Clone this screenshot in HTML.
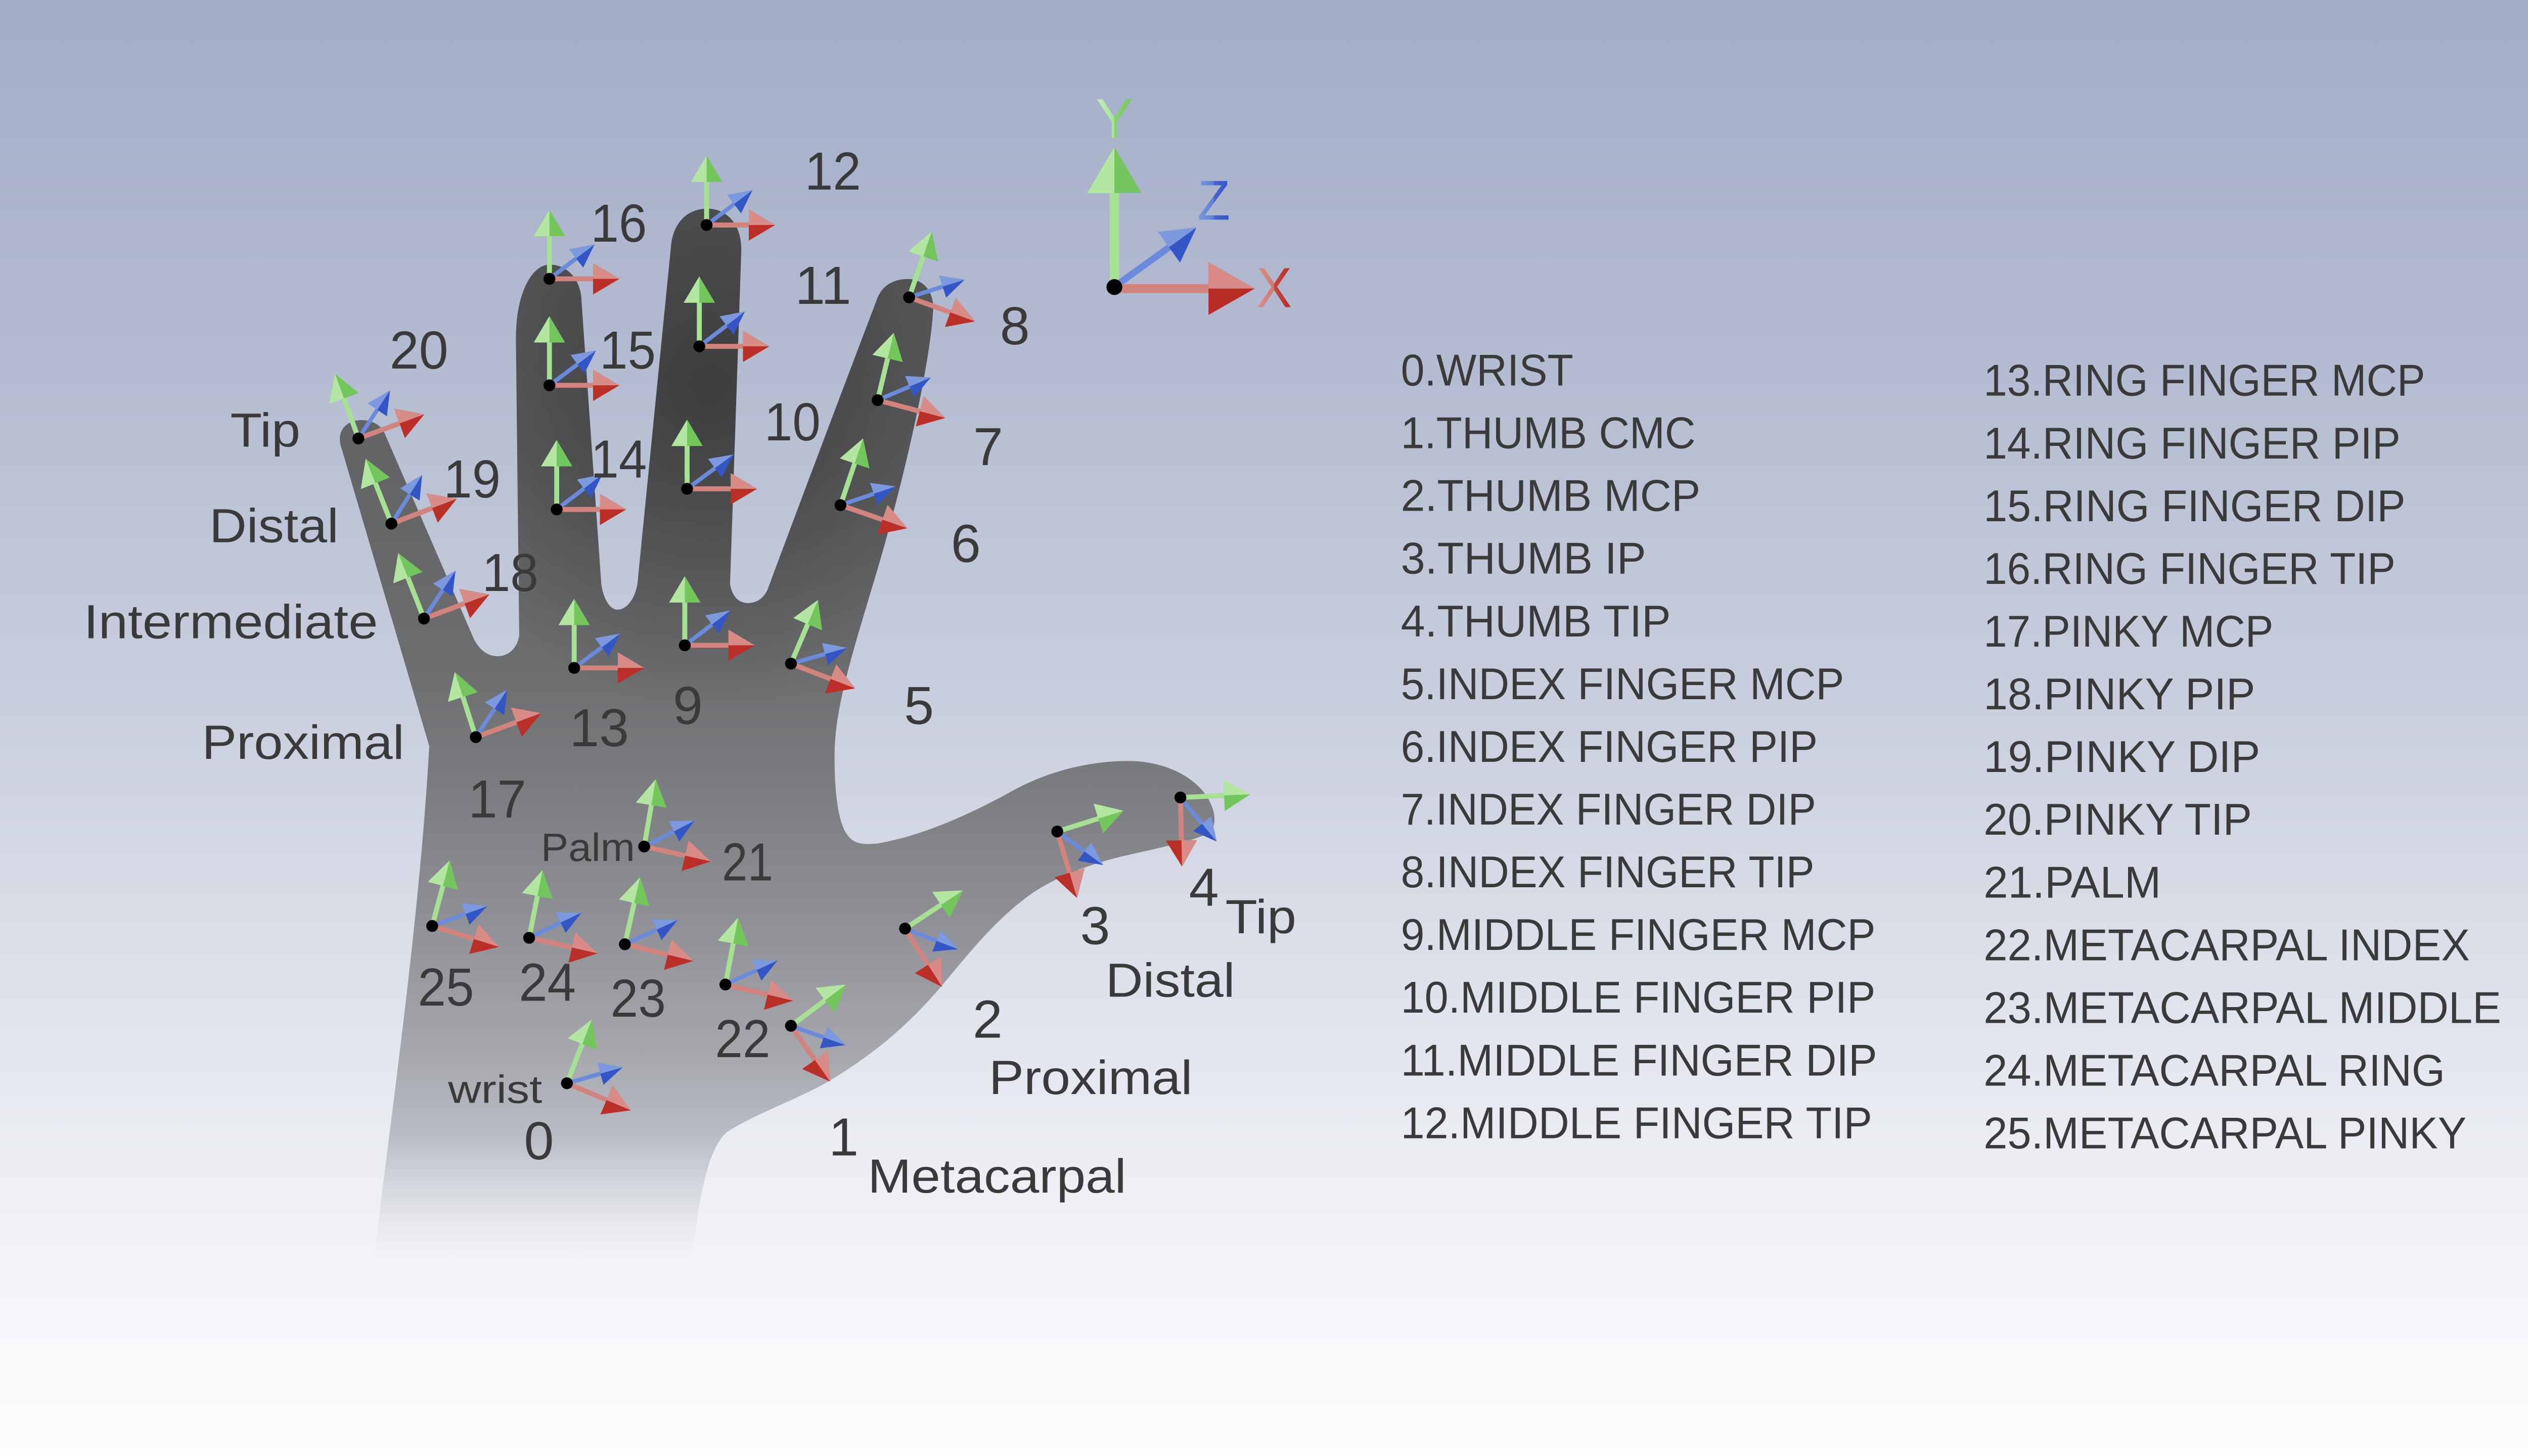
<!DOCTYPE html>
<html>
<head>
<meta charset="utf-8">
<style>
html,body{margin:0;padding:0;width:5120px;height:2880px;overflow:hidden;background:#fff;}
svg{display:block;}
text{font-family:"Liberation Sans","DejaVu Sans",sans-serif;fill:#3a3a3a;}
.n{font-size:32.5px;}
.w{font-size:29px;}
.s{font-size:24px;}
.l{font-size:27px;}
.g{stroke:#a6e093;stroke-width:3;marker-end:url(#mg);stroke-dasharray:92 100;}
.r{stroke:#d3837e;stroke-width:3;marker-end:url(#mr);stroke-dasharray:92 100;}
.b{stroke:#6a8bdb;stroke-width:2.5;marker-end:url(#mb);stroke-dasharray:92 100;}
</style>
</head>
<body>
<svg width="5120" height="2880" viewBox="0 0 1568 882" xmlns="http://www.w3.org/2000/svg">
<defs>
  <linearGradient id="bg" x1="0" y1="0" x2="0" y2="882" gradientUnits="userSpaceOnUse">
    <stop offset="0" stop-color="#a2adc7"/>
    <stop offset="0.255" stop-color="#b4bcd1"/>
    <stop offset="0.5" stop-color="#cbd0df"/>
    <stop offset="0.67" stop-color="#dde1ea"/>
    <stop offset="0.80" stop-color="#eceef3"/>
    <stop offset="0.90" stop-color="#f5f6f9"/>
    <stop offset="1" stop-color="#fdfdfe"/>
  </linearGradient>
  <linearGradient id="hand" x1="0" y1="120" x2="0" y2="800" gradientUnits="userSpaceOnUse">
    <stop offset="0" stop-color="#5b5c5e"/>
    <stop offset="0.265" stop-color="#646567"/>
    <stop offset="0.412" stop-color="#6c6d6f"/>
    <stop offset="0.529" stop-color="#7c7d80"/>
    <stop offset="0.647" stop-color="#909196"/>
    <stop offset="0.765" stop-color="#a6a8ae"/>
    <stop offset="0.84" stop-color="#bbbec5" stop-opacity="1"/>
    <stop offset="0.90" stop-color="#ced1d8" stop-opacity="0.5"/>
    <stop offset="0.945" stop-color="#e0e3ea" stop-opacity="0"/>
  </linearGradient>
  <radialGradient id="dark" cx="430" cy="235" r="195" gradientUnits="userSpaceOnUse">
    <stop offset="0" stop-color="#000" stop-opacity="0.38"/>
    <stop offset="0.5" stop-color="#000" stop-opacity="0.2"/>
    <stop offset="1" stop-color="#000" stop-opacity="0"/>
  </radialGradient>
  <linearGradient id="ty" x1="0" y1="0" x2="1" y2="0">
    <stop offset="0" stop-color="#c6f0b6"/><stop offset="0.5" stop-color="#a6e294"/><stop offset="0.5" stop-color="#86d270"/><stop offset="1" stop-color="#74c75e"/>
  </linearGradient>
  <linearGradient id="tx" x1="0" y1="0" x2="1" y2="0">
    <stop offset="0" stop-color="#dc928e"/><stop offset="0.5" stop-color="#d27670"/><stop offset="0.5" stop-color="#c7453e"/><stop offset="1" stop-color="#b92c26"/>
  </linearGradient>
  <linearGradient id="tz" x1="0" y1="0" x2="1" y2="0">
    <stop offset="0" stop-color="#7c98de"/><stop offset="0.5" stop-color="#5f80d6"/><stop offset="0.5" stop-color="#4566cc"/><stop offset="1" stop-color="#3356c4"/>
  </linearGradient>

  <marker id="mg" viewBox="0 -10 16 20" refX="16" refY="0" markerWidth="16" markerHeight="20" markerUnits="userSpaceOnUse" orient="auto">
    <path d="M0,-9.5L16,0L0,9.5Z" fill="#72c65c"/><path d="M0,-9.5L16,0L0,0Z" fill="#b3e6a0"/>
  </marker>
  <marker id="mr" viewBox="0 -10 16 20" refX="16" refY="0" markerWidth="16" markerHeight="20" markerUnits="userSpaceOnUse" orient="auto">
    <path d="M0,-9.5L16,0L0,9.5Z" fill="#bb2f29"/><path d="M0,-9.5L16,0L0,0Z" fill="#d98b87"/>
  </marker>
  <marker id="mb" viewBox="0 -8 14 16" refX="14" refY="0" markerWidth="14" markerHeight="16" markerUnits="userSpaceOnUse" orient="auto">
    <path d="M0,-7L14,0L0,7Z" fill="#3356c4"/><path d="M0,-7L14,0L0,0Z" fill="#7c98de"/>
  </marker>
  <marker id="MG" viewBox="0 -17 28 34" refX="28" refY="0" markerWidth="28" markerHeight="34" markerUnits="userSpaceOnUse" orient="auto">
    <path d="M0,-16.5L28,0L0,16.5Z" fill="#74c75e"/><path d="M0,-16.5L28,0L0,0Z" fill="#b3e6a0"/>
  </marker>
  <marker id="MR" viewBox="0 -17 28 34" refX="28" refY="0" markerWidth="28" markerHeight="34" markerUnits="userSpaceOnUse" orient="auto">
    <path d="M0,-16L28,0L0,16Z" fill="#b92c26"/><path d="M0,-16L28,0L0,0Z" fill="#d98b87"/>
  </marker>
  <marker id="MB" viewBox="0 -12 21 24" refX="20.5" refY="0" markerWidth="21" markerHeight="24" markerUnits="userSpaceOnUse" orient="auto">
    <path d="M0,-11.4L20.5,0L0,11.4Z" fill="#3356c4"/><path d="M0,-11.4L20.5,0L0,0Z" fill="#7c98de"/>
  </marker>
</defs>

<rect x="0" y="0" width="1568" height="882" fill="url(#bg)"/>

<!-- Hand -->
<path fill="url(#hand)" d="M 224,800 L 227,760 C 236,680 254,560 260,452 L 207,272 C 203,261 210,254.5 219,254.5 C 226,254.5 231,258 233,262.5 L 287,387 C 290.5,394 295.5,397.5 301.5,397.5 C 308.5,397.5 313.5,392 314.5,385 L 312.5,205 C 312.5,178 322,160.3 333,160.3 C 344,160.3 352,170 352.2,182 L 364.2,353.7 C 365.5,363 369.5,369.3 374,369.3 C 379.5,369.3 384.5,363 386.1,353.7 L 406.6,147.5 C 408.5,134 417,126.4 428.5,126.4 C 441,126.4 449.5,137 449,152 L 442.2,353.7 C 443.5,361.5 447.5,365.3 453.2,365.3 C 459,365.3 463.5,361.5 465.4,355.9 C 475,330 505,250 531,181.8 C 534,173 541,169 550,169 C 559.5,169 566,177 565.2,188.3 C 563,225 545,300 530,350 C 515,400 505.5,430 505.5,458 C 505.5,480 507.5,500 514.6,507.4 C 519,512 526,511.5 532,510.9 C 560,506 590,492 613,479.2 C 635,467 660,461 683.4,461 C 705,461 722,470 730,481 C 737,491 737.5,501 731.5,505 C 722,509.5 705,513 683.4,517.9 C 665,522 640,530 622,543.4 C 600,560 585,580 569,598.8 C 550,621 528,640 498.8,656.8 C 480,667 455,676 440,686 C 428,697 421,730 416,800 Z"/>
<path fill="url(#dark)" d="M 224,800 L 227,760 C 236,680 254,560 260,452 L 207,272 C 203,261 210,254.5 219,254.5 C 226,254.5 231,258 233,262.5 L 287,387 C 290.5,394 295.5,397.5 301.5,397.5 C 308.5,397.5 313.5,392 314.5,385 L 312.5,205 C 312.5,178 322,160.3 333,160.3 C 344,160.3 352,170 352.2,182 L 364.2,353.7 C 365.5,363 369.5,369.3 374,369.3 C 379.5,369.3 384.5,363 386.1,353.7 L 406.6,147.5 C 408.5,134 417,126.4 428.5,126.4 C 441,126.4 449.5,137 449,152 L 442.2,353.7 C 443.5,361.5 447.5,365.3 453.2,365.3 C 459,365.3 463.5,361.5 465.4,355.9 C 475,330 505,250 531,181.8 C 534,173 541,169 550,169 C 559.5,169 566,177 565.2,188.3 C 563,225 545,300 530,350 C 515,400 505.5,430 505.5,458 C 505.5,480 507.5,500 514.6,507.4 C 519,512 526,511.5 532,510.9 C 560,506 590,492 613,479.2 C 635,467 660,461 683.4,461 C 705,461 722,470 730,481 C 737,491 737.5,501 731.5,505 C 722,509.5 705,513 683.4,517.9 C 665,522 640,530 622,543.4 C 600,560 585,580 569,598.8 C 550,621 528,640 498.8,656.8 C 480,667 455,676 440,686 C 428,697 421,730 416,800 Z"/>

<!-- Joints -->
<g>
<line class="g" pathLength="100" x1="332.8" y1="168.9" x2="332.8" y2="127"/>
<line class="b" pathLength="100" x1="332.8" y1="168.9" x2="360.1" y2="148.1"/>
<line class="r" pathLength="100" x1="332.8" y1="168.9" x2="375.2" y2="168.9"/>
<circle cx="332.8" cy="168.9" r="3.6" fill="#000"/>

<line class="g" pathLength="100" x1="428" y1="136.3" x2="428" y2="94.2"/>
<line class="b" pathLength="100" x1="428" y1="136.3" x2="455.8" y2="115.2"/>
<line class="r" pathLength="100" x1="428" y1="136.3" x2="469.5" y2="136.3"/>
<circle cx="428" cy="136.3" r="3.6" fill="#000"/>

<line class="g" pathLength="100" x1="332.8" y1="233.4" x2="332.8" y2="191.5"/>
<line class="b" pathLength="100" x1="332.8" y1="233.4" x2="361" y2="212.3"/>
<line class="r" pathLength="100" x1="332.8" y1="233.4" x2="375.2" y2="233.4"/>
<circle cx="332.8" cy="233.4" r="3.6" fill="#000"/>

<line class="g" pathLength="100" x1="423.6" y1="209.8" x2="423.6" y2="167.4"/>
<line class="b" pathLength="100" x1="423.6" y1="209.8" x2="451.2" y2="188.7"/>
<line class="r" pathLength="100" x1="423.6" y1="209.8" x2="466" y2="209.8"/>
<circle cx="423.6" cy="209.8" r="3.6" fill="#000"/>

<line class="g" pathLength="100" x1="337.2" y1="308.6" x2="337.2" y2="266.5"/>
<line class="b" pathLength="100" x1="337.2" y1="308.6" x2="364.8" y2="287.5"/>
<line class="r" pathLength="100" x1="337.2" y1="308.6" x2="379.3" y2="308.6"/>
<circle cx="337.2" cy="308.6" r="3.6" fill="#000"/>

<line class="g" pathLength="100" x1="416.2" y1="296.1" x2="416.2" y2="254.2"/>
<line class="b" pathLength="100" x1="416.2" y1="296.1" x2="444.3" y2="275.3"/>
<line class="r" pathLength="100" x1="416.2" y1="296.1" x2="458.6" y2="296.1"/>
<circle cx="416.2" cy="296.1" r="3.6" fill="#000"/>

<line class="g" pathLength="100" x1="414.8" y1="390.9" x2="414.8" y2="349"/>
<line class="b" pathLength="100" x1="414.8" y1="390.9" x2="442.4" y2="369.8"/>
<line class="r" pathLength="100" x1="414.8" y1="390.9" x2="457.2" y2="390.9"/>
<circle cx="414.8" cy="390.9" r="3.6" fill="#000"/>

<line class="g" pathLength="100" x1="347.8" y1="404.6" x2="347.8" y2="362.7"/>
<line class="b" pathLength="100" x1="347.8" y1="404.6" x2="375.7" y2="383.8"/>
<line class="r" pathLength="100" x1="347.8" y1="404.6" x2="390.2" y2="404.6"/>
<circle cx="347.8" cy="404.6" r="3.6" fill="#000"/>

<line class="g" pathLength="100" x1="550.7" y1="180.1" x2="564.4" y2="140.2"/>
<line class="b" pathLength="100" x1="550.7" y1="180.1" x2="584.3" y2="169.4"/>
<line class="r" pathLength="100" x1="550.7" y1="180.1" x2="590.6" y2="194.7"/>
<circle cx="550.7" cy="180.1" r="3.6" fill="#000"/>

<line class="g" pathLength="100" x1="531.6" y1="242.4" x2="541.4" y2="201.6"/>
<line class="b" pathLength="100" x1="531.6" y1="242.4" x2="563.8" y2="228.7"/>
<line class="r" pathLength="100" x1="531.6" y1="242.4" x2="572.6" y2="253.2"/>
<circle cx="531.6" cy="242.4" r="3.6" fill="#000"/>

<line class="g" pathLength="100" x1="509.1" y1="306" x2="522.8" y2="265.6"/>
<line class="b" pathLength="100" x1="509.1" y1="306" x2="542.5" y2="294.6"/>
<line class="r" pathLength="100" x1="509.1" y1="306" x2="549.6" y2="320"/>
<circle cx="509.1" cy="306" r="3.6" fill="#000"/>

<line class="g" pathLength="100" x1="479.1" y1="402" x2="495.5" y2="363.4"/>
<line class="b" pathLength="100" x1="479.1" y1="402" x2="513.2" y2="392.4"/>
<line class="r" pathLength="100" x1="479.1" y1="402" x2="518" y2="417"/>
<circle cx="479.1" cy="402" r="3.6" fill="#000"/>

<line class="g" pathLength="100" x1="217.1" y1="265.6" x2="202.9" y2="226.3"/>
<line class="b" pathLength="100" x1="217.1" y1="265.6" x2="236.2" y2="236.6"/>
<line class="r" pathLength="100" x1="217.1" y1="265.6" x2="257" y2="251"/>
<circle cx="217.1" cy="265.6" r="3.6" fill="#000"/>

<line class="g" pathLength="100" x1="237.1" y1="317.2" x2="221.5" y2="277.9"/>
<line class="b" pathLength="100" x1="237.1" y1="317.2" x2="255.7" y2="287.7"/>
<line class="r" pathLength="100" x1="237.1" y1="317.2" x2="276.7" y2="302.1"/>
<circle cx="237.1" cy="317.2" r="3.6" fill="#000"/>

<line class="g" pathLength="100" x1="256.8" y1="374.7" x2="241.2" y2="335"/>
<line class="b" pathLength="100" x1="256.8" y1="374.7" x2="275.9" y2="345.7"/>
<line class="r" pathLength="100" x1="256.8" y1="374.7" x2="296.4" y2="360.1"/>
<circle cx="256.8" cy="374.7" r="3.6" fill="#000"/>

<line class="g" pathLength="100" x1="288.2" y1="446.5" x2="275.5" y2="407"/>
<line class="b" pathLength="100" x1="288.2" y1="446.5" x2="307.3" y2="417.7"/>
<line class="r" pathLength="100" x1="288.2" y1="446.5" x2="327.8" y2="432"/>
<circle cx="288.2" cy="446.5" r="3.6" fill="#000"/>

<line class="g" pathLength="100" x1="390.2" y1="512.8" x2="397.2" y2="472"/>
<line class="b" pathLength="100" x1="390.2" y1="512.8" x2="420.7" y2="497.2"/>
<line class="r" pathLength="100" x1="390.2" y1="512.8" x2="430.6" y2="521.8"/>
<circle cx="390.2" cy="512.8" r="3.6" fill="#000"/>

<line class="g" pathLength="100" x1="261.8" y1="560.9" x2="272.4" y2="521.2"/>
<line class="b" pathLength="100" x1="261.8" y1="560.9" x2="295.2" y2="548.9"/>
<line class="r" pathLength="100" x1="261.8" y1="560.9" x2="302.3" y2="573.6"/>
<circle cx="261.8" cy="560.9" r="3.6" fill="#000"/>

<line class="g" pathLength="100" x1="320.5" y1="568.1" x2="328.6" y2="527.1"/>
<line class="b" pathLength="100" x1="320.5" y1="568.1" x2="352.2" y2="552.8"/>
<line class="r" pathLength="100" x1="320.5" y1="568.1" x2="362" y2="577.5"/>
<circle cx="320.5" cy="568.1" r="3.6" fill="#000"/>

<line class="g" pathLength="100" x1="378.5" y1="572" x2="387.7" y2="531.4"/>
<line class="b" pathLength="100" x1="378.5" y1="572" x2="410.5" y2="557.3"/>
<line class="r" pathLength="100" x1="378.5" y1="572" x2="420" y2="582.1"/>
<circle cx="378.5" cy="572" r="3.6" fill="#000"/>

<line class="g" pathLength="100" x1="439.4" y1="596.4" x2="447.1" y2="555.8"/>
<line class="b" pathLength="100" x1="439.4" y1="596.4" x2="471" y2="581.8"/>
<line class="r" pathLength="100" x1="439.4" y1="596.4" x2="480.5" y2="606.2"/>
<circle cx="439.4" cy="596.4" r="3.6" fill="#000"/>

<line class="g" pathLength="100" x1="343.4" y1="656.2" x2="358.5" y2="617.5"/>
<line class="b" pathLength="100" x1="343.4" y1="656.2" x2="377.1" y2="646.6"/>
<line class="r" pathLength="100" x1="343.4" y1="656.2" x2="382.1" y2="672.6"/>
<circle cx="343.4" cy="656.2" r="3.6" fill="#000"/>

<line class="g" pathLength="100" x1="479.1" y1="621.4" x2="512.5" y2="596.4"/>
<line class="b" pathLength="100" x1="479.1" y1="621.4" x2="512.1" y2="633.1"/>
<line class="r" pathLength="100" x1="479.1" y1="621.4" x2="502.8" y2="655.2"/>
<circle cx="479.1" cy="621.4" r="3.6" fill="#000"/>

<line class="g" pathLength="100" x1="548.2" y1="562.5" x2="583.3" y2="539.4"/>
<line class="b" pathLength="100" x1="548.2" y1="562.5" x2="580.3" y2="575"/>
<line class="r" pathLength="100" x1="548.2" y1="562.5" x2="570.7" y2="597.9"/>
<circle cx="548.2" cy="562.5" r="3.6" fill="#000"/>

<line class="g" pathLength="100" x1="640.4" y1="503.7" x2="680.5" y2="491.1"/>
<line class="b" pathLength="100" x1="640.4" y1="503.7" x2="668.2" y2="524"/>
<line class="r" pathLength="100" x1="640.4" y1="503.7" x2="652.4" y2="544"/>
<circle cx="640.4" cy="503.7" r="3.6" fill="#000"/>

<line class="g" pathLength="100" x1="715" y1="483.1" x2="757.4" y2="481.1"/>
<line class="b" pathLength="100" x1="715" y1="483.1" x2="737" y2="509.8"/>
<line class="r" pathLength="100" x1="715" y1="483.1" x2="716" y2="525"/>
<circle cx="715" cy="483.1" r="3.6" fill="#000"/>
</g>

<!-- Axis legend -->
<line x1="675" y1="173.7" x2="675" y2="89" stroke="#a6e093" stroke-width="5.7" pathLength="100" stroke-dasharray="93 100" marker-end="url(#MG)"/>
<line x1="675" y1="173.7" x2="724.7" y2="137.8" stroke="#6a8bdb" stroke-width="4" pathLength="100" stroke-dasharray="92 100" marker-end="url(#MB)"/>
<line x1="675" y1="174.8" x2="760" y2="174.8" stroke="#d3837e" stroke-width="5.4" pathLength="100" stroke-dasharray="93 100" marker-end="url(#MR)"/>
<circle cx="675" cy="173.9" r="4.8" fill="#000"/>
<text x="675" y="83.6" font-size="34" text-anchor="middle" style="fill:url(#ty)">Y</text>
<text x="761" y="186" font-size="34" textLength="21.5" lengthAdjust="spacingAndGlyphs" style="fill:url(#tx)">X</text>
<text x="725.3" y="133" font-size="34" textLength="19.8" lengthAdjust="spacingAndGlyphs" style="fill:url(#tz)">Z</text>

<!-- Hand labels: numbers -->
<g class="n">
<text x="487.5" y="114.8" textLength="34" lengthAdjust="spacingAndGlyphs">12</text>
<text x="357.8" y="146.4" textLength="34" lengthAdjust="spacingAndGlyphs">16</text>
<text x="481.6" y="184" textLength="34" lengthAdjust="spacingAndGlyphs">11</text>
<text x="605.7" y="208.5">8</text>
<text x="236" y="223.3" textLength="35.5" lengthAdjust="spacingAndGlyphs">20</text>
<text x="363.2" y="223.3" textLength="34" lengthAdjust="spacingAndGlyphs">15</text>
<text x="463" y="266.7" textLength="34" lengthAdjust="spacingAndGlyphs">10</text>
<text x="589.5" y="281.7">7</text>
<text x="268.7" y="301.3" textLength="34.5" lengthAdjust="spacingAndGlyphs">19</text>
<text x="357.8" y="289.2" textLength="34" lengthAdjust="spacingAndGlyphs">14</text>
<text x="576" y="340.4">6</text>
<text x="292.1" y="358" textLength="34" lengthAdjust="spacingAndGlyphs">18</text>
<text x="345" y="452" textLength="36" lengthAdjust="spacingAndGlyphs">13</text>
<text x="407.6" y="438.5">9</text>
<text x="547.6" y="438.5">5</text>
<text x="283.7" y="495.2" textLength="35" lengthAdjust="spacingAndGlyphs">17</text>
<text x="437.3" y="533.3" textLength="31" lengthAdjust="spacingAndGlyphs">21</text>
<text x="253.1" y="609.1" textLength="34" lengthAdjust="spacingAndGlyphs">25</text>
<text x="314.3" y="606.2" textLength="34.5" lengthAdjust="spacingAndGlyphs">24</text>
<text x="369.8" y="615.9" textLength="33.5" lengthAdjust="spacingAndGlyphs">23</text>
<text x="433.1" y="640.4" textLength="33.5" lengthAdjust="spacingAndGlyphs">22</text>
<text x="317.4" y="702.3">0</text>
<text x="502" y="699.9">1</text>
<text x="589.2" y="628.6">2</text>
<text x="654.3" y="572">3</text>
<text x="720.2" y="548.6">4</text>
</g>

<!-- Hand labels: words -->
<g class="w">
<text x="139.5" y="270.6" textLength="42.4" lengthAdjust="spacingAndGlyphs">Tip</text>
<text x="126.8" y="328.4" textLength="78.3" lengthAdjust="spacingAndGlyphs">Distal</text>
<text x="50.7" y="386.7" textLength="178.2" lengthAdjust="spacingAndGlyphs">Intermediate</text>
<text x="122.3" y="459.7" textLength="122.6" lengthAdjust="spacingAndGlyphs">Proximal</text>
<text x="525.6" y="722.4" textLength="156.6" lengthAdjust="spacingAndGlyphs">Metacarpal</text>
<text x="599" y="662.8" textLength="123.3" lengthAdjust="spacingAndGlyphs">Proximal</text>
<text x="669.7" y="603.8" textLength="78.3" lengthAdjust="spacingAndGlyphs">Distal</text>
<text x="742.2" y="565.4" textLength="43" lengthAdjust="spacingAndGlyphs">Tip</text>
</g>
<g class="s">
<text x="327.6" y="521.6" textLength="57" lengthAdjust="spacingAndGlyphs">Palm</text>
<text x="271.4" y="668.1" textLength="57" lengthAdjust="spacingAndGlyphs">wrist</text>
</g>

<!-- Legend list column 1 -->
<g class="l">
<text x="848.5" y="233.5" textLength="104.5" lengthAdjust="spacingAndGlyphs">0.WRIST</text>
<text x="848.5" y="271.5" textLength="178.5" lengthAdjust="spacingAndGlyphs">1.THUMB CMC</text>
<text x="848.5" y="309.5" textLength="181.5" lengthAdjust="spacingAndGlyphs">2.THUMB MCP</text>
<text x="848.5" y="347.5" textLength="148.5" lengthAdjust="spacingAndGlyphs">3.THUMB IP</text>
<text x="848.5" y="385.5" textLength="163.5" lengthAdjust="spacingAndGlyphs">4.THUMB TIP</text>
<text x="848.5" y="423.5" textLength="268.5" lengthAdjust="spacingAndGlyphs">5.INDEX FINGER MCP</text>
<text x="848.5" y="461.5" textLength="252.5" lengthAdjust="spacingAndGlyphs">6.INDEX FINGER PIP</text>
<text x="848.5" y="499.5" textLength="251.5" lengthAdjust="spacingAndGlyphs">7.INDEX FINGER DIP</text>
<text x="848.5" y="537.5" textLength="250.5" lengthAdjust="spacingAndGlyphs">8.INDEX FINGER TIP</text>
<text x="848.5" y="575.5" textLength="287.5" lengthAdjust="spacingAndGlyphs">9.MIDDLE FINGER MCP</text>
<text x="848.5" y="613.5" textLength="287.5" lengthAdjust="spacingAndGlyphs">10.MIDDLE FINGER PIP</text>
<text x="848.5" y="651.5" textLength="288.5" lengthAdjust="spacingAndGlyphs">11.MIDDLE FINGER DIP</text>
<text x="848.5" y="689.5" textLength="285.5" lengthAdjust="spacingAndGlyphs">12.MIDDLE FINGER TIP</text>
</g>
<!-- Legend list column 2 -->
<g class="l">
<text x="1201.5" y="239.7" textLength="267.5" lengthAdjust="spacingAndGlyphs">13.RING FINGER MCP</text>
<text x="1201.5" y="277.7" textLength="252.5" lengthAdjust="spacingAndGlyphs">14.RING FINGER PIP</text>
<text x="1201.5" y="315.7" textLength="255.5" lengthAdjust="spacingAndGlyphs">15.RING FINGER DIP</text>
<text x="1201.5" y="353.7" textLength="249.5" lengthAdjust="spacingAndGlyphs">16.RING FINGER TIP</text>
<text x="1201.5" y="391.7" textLength="175.5" lengthAdjust="spacingAndGlyphs">17.PINKY MCP</text>
<text x="1201.5" y="429.7" textLength="164.5" lengthAdjust="spacingAndGlyphs">18.PINKY PIP</text>
<text x="1201.5" y="467.7" textLength="167.5" lengthAdjust="spacingAndGlyphs">19.PINKY DIP</text>
<text x="1201.5" y="505.7" textLength="162.5" lengthAdjust="spacingAndGlyphs">20.PINKY TIP</text>
<text x="1201.5" y="543.7" textLength="107.5" lengthAdjust="spacingAndGlyphs">21.PALM</text>
<text x="1201.5" y="581.7" textLength="294.5" lengthAdjust="spacingAndGlyphs">22.METACARPAL INDEX</text>
<text x="1201.5" y="619.7" textLength="313.5" lengthAdjust="spacingAndGlyphs">23.METACARPAL MIDDLE</text>
<text x="1201.5" y="657.7" textLength="279.5" lengthAdjust="spacingAndGlyphs">24.METACARPAL RING</text>
<text x="1201.5" y="695.7" textLength="292.5" lengthAdjust="spacingAndGlyphs">25.METACARPAL PINKY</text>
</g>
</svg>
</body>
</html>
